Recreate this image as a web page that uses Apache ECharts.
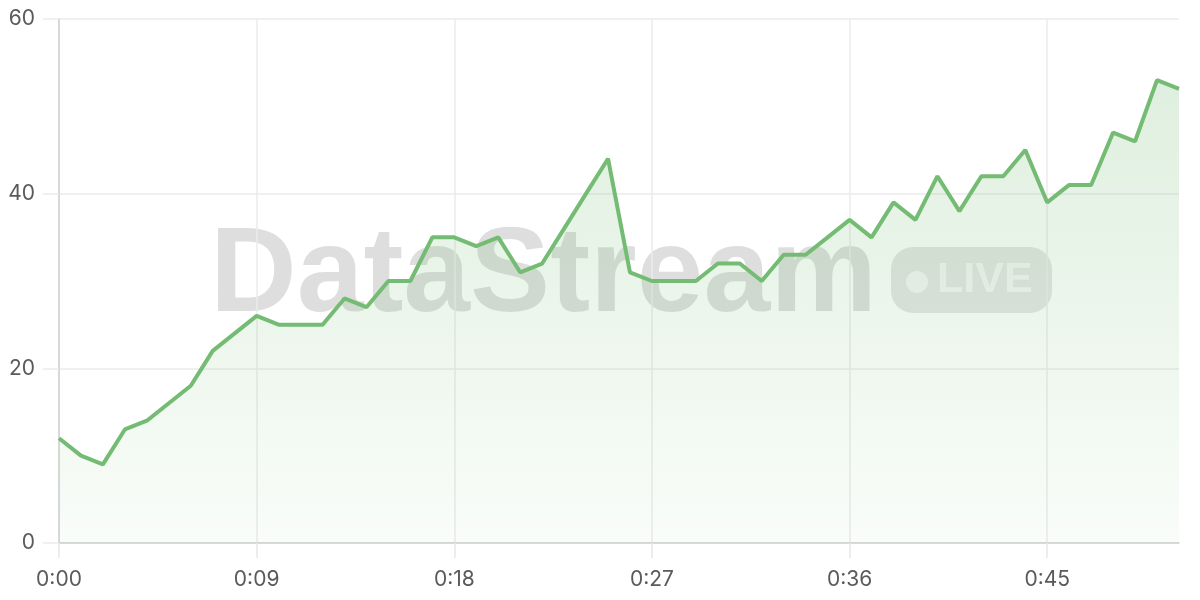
<!DOCTYPE html>
<html>
<head>
<meta charset="utf-8">
<script src="https://cdn.jsdelivr.net/npm/echarts@6/dist/echarts.min.js"></script>
<style>
html,body{margin:0;padding:0;background:#fff;}
#main{width:1200px;height:600px;}
</style>
</head>
<body>
<div id="main"></div>
<script>
const categories = ["0:00","0:01","0:02","0:03","0:04","0:05","0:06","0:07","0:08","0:09",
  "0:10","0:11","0:12","0:13","0:14","0:15","0:16","0:17","0:18","0:19",
  "0:20","0:21","0:22","0:23","0:24","0:25","0:26","0:27","0:28","0:29",
  "0:30","0:31","0:32","0:33","0:34","0:35","0:36","0:37","0:38","0:39",
  "0:40","0:41","0:42","0:43","0:44","0:45","0:46","0:47","0:48","0:49",
  "0:50","0:51"];
const values = [12,10,9,13,14,16,18,22,24,26,
  25,25,25,28,27,30,30,35,35,34,
  35,31,32,36,40,44,31,30,30,30,
  32,32,30,33,33,35,37,35,39,37,
  42,38,42,42,45,39,41,41,47,46,
  53,52];
const yTicks = {min:0, max:60, interval:20};
const watermarkText = "DataStream";
const badgeText = "LIVE";

const FONT = "Inter, 'Noto Sans', sans-serif";
const chart = echarts.init(document.getElementById('main'));
chart.setOption({
  animation:false,
  backgroundColor:'#fff',
  grid:{left:59,right:21,top:19,bottom:57},
  xAxis:{
    type:'category', data:categories, boundaryGap:false,
    axisLine:{lineStyle:{color:'#d0d0d0',width:1.5}},
    axisTick:{show:true,interval:8,length:15,lineStyle:{color:'#e8e8e8',width:1.5}},
    splitLine:{show:true,interval:8,lineStyle:{color:'#ebebeb',width:1.5}},
    axisLabel:{interval:8,margin:26,fontSize:21,color:'#5a5a5a',fontFamily:FONT}
  },
  yAxis:{
    type:'value', min:yTicks.min, max:yTicks.max, interval:yTicks.interval,
    axisLine:{show:true,lineStyle:{color:'#d0d0d0',width:1.5}},
    axisTick:{show:true,length:16,lineStyle:{color:'#ebebeb',width:1.5}},
    splitLine:{show:true,lineStyle:{color:'#ebebeb',width:1.5}},
    axisLabel:{margin:24,fontSize:21,color:'#5a5a5a',fontFamily:FONT}
  },
  graphic:[
    {type:'text', left:210, top:218, z:0, silent:true,
      style:{text:watermarkText, font:"bold 120px 'Liberation Sans', Arial, sans-serif", fill:'rgba(0,0,0,0.13)'}},
    {type:'rect', left:891, top:247, z:0, silent:true,
      shape:{width:161,height:66,r:22}, style:{fill:'rgba(0,0,0,0.1)'}},
    {type:'circle', left:906, top:271, z:1, silent:true,
      shape:{r:11}, style:{fill:'rgba(255,255,255,0.6)'}},
    {type:'text', left:937, top:259, z:1, silent:true,
      style:{text:badgeText, font:"bold 43px 'Liberation Sans', Arial, sans-serif", fill:'rgba(255,255,255,0.6)'}}
  ],
  series:[{
    type:'line', data:values, symbol:'none', smooth:false,
    lineStyle:{color:'#74bb74',width:4},
    areaStyle:{color:new echarts.graphic.LinearGradient(0,0,0,1,[
      {offset:0,color:'rgba(116,187,116,0.33)'},
      {offset:1,color:'rgba(116,187,116,0.06)'}
    ])}
  }]
});
</script>
</body>
</html>
